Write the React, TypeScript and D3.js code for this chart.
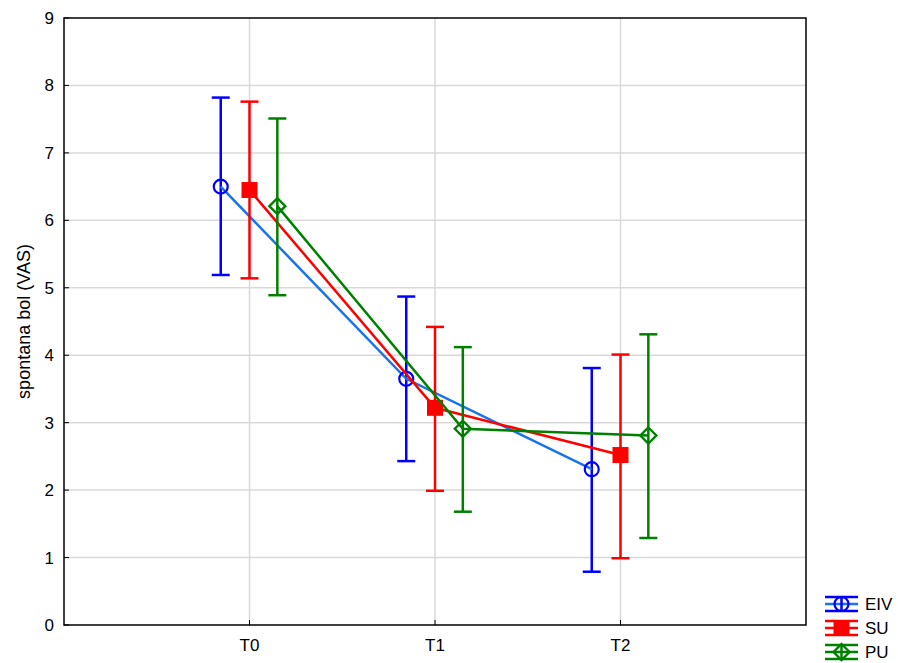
import { useEffect, useRef } from 'react'
import * as d3 from 'd3'

const categories = ['T0', 'T1', 'T2']
const seriesNames = ['EIV', 'SU', 'PU']

const eivMean = [6.5, 3.65, 2.31]
const eivUpper = [7.82, 4.87, 3.81]
const eivLower = [5.19, 2.43, 0.79]

const suMean = [6.45, 3.22, 2.52]
const suUpper = [7.76, 4.42, 4.01]
const suLower = [5.14, 1.99, 0.99]

const puMean = [6.21, 2.91, 2.81]
const puUpper = [7.51, 4.12, 4.31]
const puLower = [4.89, 1.68, 1.29]

const yTicks = [0, 1, 2, 3, 4, 5, 6, 7, 8, 9]

export default function App() {
  const svgRef = useRef<SVGSVGElement>(null)

  useEffect(() => {
    if (!svgRef.current) return
    d3.select(svgRef.current).selectAll('*').remove()

    const svg = d3.select(svgRef.current)
    const width = 898
    const height = 663
    const margin = { top: 18, right: 92, bottom: 38, left: 64 }
    const font = 'Arial, "Liberation Sans", sans-serif'
    const fs = 17

    svg.attr('width', width).attr('height', height)

    const x = d3.scaleLinear().domain([-1, 3]).range([margin.left, width - margin.right])
    const y = d3.scaleLinear().domain([0, 9]).range([height - margin.bottom, margin.top])

    const series = [
      { name: seriesNames[0], mean: eivMean, up: eivUpper, lo: eivLower, color: '#0000ff', line: '#1874e8', shape: 'circle', off: -0.155 },
      { name: seriesNames[1], mean: suMean, up: suUpper, lo: suLower, color: '#ff0000', line: '#ff0000', shape: 'square', off: 0 },
      { name: seriesNames[2], mean: puMean, up: puUpper, lo: puLower, color: '#008000', line: '#008000', shape: 'diamond', off: 0.15 },
    ]

    // grid
    const grid = svg.append('g').attr('stroke', '#d9d9d9').attr('stroke-width', 1.5)
    yTicks.slice(1, -1).forEach((t) => {
      grid.append('line').attr('x1', x(-1)).attr('x2', x(3)).attr('y1', y(t)).attr('y2', y(t))
    })
    categories.forEach((_, i) => {
      grid.append('line').attr('x1', x(i)).attr('x2', x(i)).attr('y1', y(0)).attr('y2', y(9))
    })

    // frame
    svg.append('rect')
      .attr('x', x(-1)).attr('y', y(9))
      .attr('width', x(3) - x(-1)).attr('height', y(0) - y(9))
      .attr('fill', 'none').attr('stroke', '#000').attr('stroke-width', 1.5)

    // ticks inside
    const ticks = svg.append('g').attr('stroke', '#000').attr('stroke-width', 1)
    yTicks.forEach((t) => {
      ticks.append('line').attr('x1', x(-1)).attr('x2', x(-1) + 5).attr('y1', y(t)).attr('y2', y(t))
    })
    categories.forEach((_, i) => {
      ticks.append('line').attr('x1', x(i)).attr('x2', x(i)).attr('y1', y(0)).attr('y2', y(0) - 5)
    })

    // tick labels
    svg.append('g').selectAll('text').data(yTicks).join('text')
      .attr('x', x(-1) - 10).attr('y', (d) => y(d) + 6)
      .attr('text-anchor', 'end').attr('font-family', font).attr('font-size', fs)
      .text((d) => d)
    svg.append('g').selectAll('text').data(categories).join('text')
      .attr('x', (_, i) => x(i)).attr('y', y(0) + 26)
      .attr('text-anchor', 'middle').attr('font-family', font).attr('font-size', fs)
      .text((d) => d)

    svg.append('text')
      .attr('transform', `translate(30,${(y(0) + y(9)) / 2}) rotate(-90)`)
      .attr('text-anchor', 'middle').attr('font-family', font).attr('font-size', 18)
      .text('spontana bol (VAS)')

    const drawMarker = (g: any, shape: string, cx: number, cy: number, color: string) => {
      if (shape === 'circle') {
        g.append('circle').attr('cx', cx).attr('cy', cy).attr('r', 7)
          .attr('fill', 'none').attr('stroke', color).attr('stroke-width', 2.2)
      } else if (shape === 'square') {
        g.append('rect').attr('x', cx - 8).attr('y', cy - 8).attr('width', 16).attr('height', 16)
          .attr('fill', color)
      } else {
        g.append('path').attr('d', `M${cx},${cy - 8}L${cx + 8},${cy}L${cx},${cy + 8}L${cx - 8},${cy}Z`)
          .attr('fill', 'none').attr('stroke', color).attr('stroke-width', 2.4)
      }
    }

    series.forEach((s) => {
      const g = svg.append('g')
      const px = (i: number) => x(i + s.off)
      // error bars
      s.mean.forEach((_, i) => {
        g.append('line').attr('x1', px(i)).attr('x2', px(i)).attr('y1', y(s.up[i])).attr('y2', y(s.lo[i]))
          .attr('stroke', s.color).attr('stroke-width', 2.5)
        ;[s.up[i], s.lo[i]].forEach((v) => {
          g.append('line').attr('x1', px(i) - 9).attr('x2', px(i) + 9).attr('y1', y(v)).attr('y2', y(v))
            .attr('stroke', s.color).attr('stroke-width', 2.5)
        })
      })
      const lineGen = d3.line<number>().x((_, i) => px(i)).y((d) => y(d))
      g.append('path').datum(s.mean)
        .attr('d', lineGen)
        .attr('fill', 'none').attr('stroke', s.line).attr('stroke-width', 2.5)
      s.mean.forEach((v, i) => drawMarker(g, s.shape, px(i), y(v), s.color))
    })

    // legend
    series.forEach((s, k) => {
      const g = svg.append('g')
      const ly = 604 + k * 24
      const lx1 = 825
      const lx2 = 858
      const cx = (lx1 + lx2) / 2
      ;[ly - 7, ly + 7].forEach((yy) => {
        g.append('line').attr('x1', lx1).attr('x2', lx2).attr('y1', yy).attr('y2', yy)
          .attr('stroke', s.color).attr('stroke-width', 2.5)
      })
      g.append('line').attr('x1', lx1).attr('x2', lx2).attr('y1', ly).attr('y2', ly)
        .attr('stroke', s.line).attr('stroke-width', 2.5)
      g.append('line').attr('x1', cx).attr('x2', cx).attr('y1', ly - 7).attr('y2', ly + 7)
        .attr('stroke', s.color).attr('stroke-width', 2.5)
      drawMarker(g, s.shape, cx, ly, s.color)
      g.append('text').attr('x', 865).attr('y', ly + 6)
        .attr('font-family', font).attr('font-size', fs).text(s.name)
    })
  }, [])

  return <svg ref={svgRef} style={{ position: 'absolute', left: 0, top: 0 }} />
}
